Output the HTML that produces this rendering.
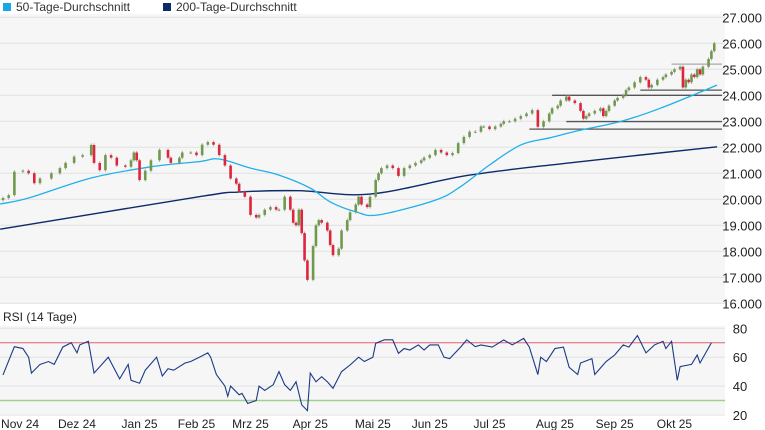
<!DOCTYPE html>
<html><head><meta charset="utf-8"><style>
body{margin:0;background:#fff;font-family:"Liberation Sans",Arial,sans-serif}
svg{display:block}
text{font-family:"Liberation Sans",Arial,sans-serif}
</style></head><body>
<svg id="c" width="765" height="430" viewBox="0 0 765 430" xmlns="http://www.w3.org/2000/svg">
<rect x="0" y="0" width="765" height="430" fill="#fff"/>
<g>
<rect x="3" y="3" width="8" height="8" fill="#1aa6e4"/>
<text x="16" y="11" font-size="12" fill="#333">50-Tage-Durchschnitt</text>
<rect x="163" y="3" width="8" height="8" fill="#0d2a6b"/>
<text x="176" y="11" font-size="12" fill="#333">200-Tage-Durchschnitt</text>
</g>
<rect x="0" y="14" width="725" height="289" fill="#f6f6f6"/>
<rect x="0" y="326" width="725" height="88" fill="#f6f6f6"/>
<text x="3" y="321" font-size="12" fill="#222">RSI (14 Tage)</text>
<g id="grid"></g><g id="levels"></g><g id="ma"></g><g id="candles"></g><g id="rsi"></g><g id="axes"></g>
</svg>
<script>
const days=[0,2,4,7,9,11,13,17,20,22,25,28,31,32,34,36,38,40,43,45,46,47,48,50,52,55,58,59,62,63,66,68,70,72,74,76,78,80,82,83,85,87,89,90,92,94,96,97,99,101,102,103,104,105,106,107,109,110,111,112,114,115,116,118,119,121,122,124,125,126,128,129,131,132,133,135,137,139,141,143,145,147,148,150,152,154,156,158,160,162,164,166,168,169,171,173,175,176,178,180,182,184,186,188,190,192,193,195,196,198,199,201,203,204,205,206,208,210,211,212,213,215,216,218,219,220,222,224,226,227,228,230,232,233,235,236,238,239,240,241,242,243,244,245,246,248,249,250];
const closes=[20050,20160,21060,21100,21000,20620,20800,21000,21200,21400,21640,21700,22090,21400,21120,21700,21600,21300,21250,21500,21800,21500,20740,21100,21500,21900,21600,21400,21600,21800,21800,21700,22100,22200,22100,21700,21300,20800,20600,20300,20100,19400,19300,19400,19600,19700,19600,19600,20100,19600,19100,19000,19600,18700,17650,16900,18200,19000,19200,19100,18800,18240,17850,18100,18800,19200,19500,19800,20100,19800,19700,20100,20740,21000,21200,21300,21200,20900,21200,21300,21400,21500,21600,21700,21900,21800,21700,21780,22160,22400,22600,22600,22800,22800,22700,22800,22900,23000,23000,23100,23200,23300,23430,22790,23000,23300,23500,23600,23800,23950,23800,23700,23400,23100,23200,23300,23400,23500,23200,23400,23600,23800,23900,24000,24200,24300,24500,24700,24600,24300,24400,24600,24700,24800,24900,25000,25100,24300,24600,24500,24800,24700,25000,24800,25100,25400,25700,26000];
const ma50Days=[-1,9,31,52,69,76,87,97,108,115,124,132,152,161,171,182,192,203,217,231,251];
const ma50Vals=[19820,20050,20820,21250,21450,21550,21200,20930,20430,19900,19520,19400,19970,20500,21320,22090,22360,22660,22990,23500,24390];
const ma200Days=[-1,69,83,104,129,164,199,251];
const ma200Vals=[18850,20100,20280,20330,20200,20930,21400,22020];
const levelStartDays=[235,224,193,198,185];
const levelVals=[25200,24200,24000,22990,22700];
const rsiDays=[0,4,7,9,10,13,16,18,21,24,26,27,30,32,37,41,44,45,48,50,54,56,58,60,64,66,69,72,73,75,78,79,80,83,84,86,89,90,92,95,97,99,101,103,105,107,108,110,112,114,116,119,122,125,127,130,131,134,137,139,141,143,146,148,150,153,155,157,161,163,166,168,172,176,179,183,185,188,189,191,194,197,199,202,203,207,208,212,215,218,220,223,226,229,232,233,235,237,238,242,244,245,249];
const rsiVals=[47.7,67.3,66,60,49,55,57,55,67,70,63,68.5,71,49,60,45,55,44,42,51,60,47,52,51,56,57,60,63,60,48,40,33,40,34,35,28,30,40,37,41,50,41,37,43,27,23,49,43,46.5,43,38.5,50,54.6,60,57,60,69.6,72,72,62.7,66,65,68.5,65,68.5,68.5,60,59,67.3,72,67.3,68.5,67,72,68.5,73,67,48,60,57,66,67,53,48,56,59,48,57,61.5,68.5,67,75,63,68.5,71,66,71,44,53.5,55,61.5,56,70];
const priceTicks=[16000,17000,18000,19000,20000,21000,22000,23000,24000,25000,26000,27000];
const rsiTicks=[20,40,60,80];
const monthLabels=["Nov 24","Dez 24","Jan 25","Feb 25","Mrz 25","Apr 25","Mai 25","Jun 25","Jul 25","Aug 25","Sep 25","Okt 25"];
const monthDays=[6,26,48,68,87,108,130,150,171,194,215,236];

const NS="http://www.w3.org/2000/svg";
const X=d=>3+d*2.845;
const Y=v=>199.3-(v-20000)*0.026;
const RY=v=>328.3+(80-v)*(86.7/60);
function mk(tag,attrs,parent){const e=document.createElementNS(NS,tag);for(const k in attrs)e.setAttribute(k,attrs[k]);document.getElementById(parent).appendChild(e);return e;}
function fmt(v){return String(v).replace(/(\d)(?=(\d{3})+$)/,'$1.');}
// grid
priceTicks.forEach(t=>{
 const l=mk('line',{x1:0,x2:725,y1:Y(t),y2:Y(t),stroke:'#e1e1e1','stroke-width':1},'grid');
 
 
 const tx=mk('text',{x:762,y:Y(t)+5,'font-size':13,fill:'#222','text-anchor':'end'},'axes');
 tx.textContent=fmt(t);
 
 
});
rsiTicks.forEach(t=>{
 const l=mk('line',{x1:0,x2:725,y1:RY(t),y2:RY(t),stroke:'#e1e1e1','stroke-width':1},'grid');
 
 
 const tx=mk('text',{x:740,y:RY(t)+5,'font-size':13,fill:'#222','text-anchor':'middle'},'axes');
 tx.textContent=t;
 
 
});
const r70=mk('line',{x1:0,x2:725,y1:RY(70),y2:RY(70),stroke:'#e06070','stroke-width':1},'grid');


const r30=mk('line',{x1:0,x2:725,y1:RY(30),y2:RY(30),stroke:'#9fd08f','stroke-width':1.5},'grid');


monthLabels.forEach((m,i)=>{
 const tx=mk('text',{x:X(monthDays[i]),y:428,'font-size':12,fill:'#222','text-anchor':'middle'},'axes');
 tx.textContent=m;
 
 
});
// levels
levelVals.forEach((v,i)=>{
 const l=mk('line',{x1:X(levelStartDays[i]),x2:722,y1:Y(v),y2:Y(v),stroke:i==0?'#aaa':'#555','stroke-width':1.3},'levels');
 
 
});
// MAs
function smoothPath(ds,vs,fy){let p='';const pts=ds.map((d,i)=>[X(d),fy(vs[i])]);
 pts.forEach((pt,i)=>{if(i==0){p+='M'+pt[0]+','+pt[1];return;}const a=pts[i-1],b=pt,pa=pts[i-2]||a,nb=pts[i+1]||b;
 const c1=[a[0]+(b[0]-pa[0])/6,a[1]+(b[1]-pa[1])/6],c2=[b[0]-(nb[0]-a[0])/6,b[1]-(nb[1]-a[1])/6];
 p+=` C${c1[0]},${c1[1]} ${c2[0]},${c2[1]} ${b[0]},${b[1]}`;});return p;}
const m200=mk('path',{d:smoothPath(ma200Days,ma200Vals,Y),fill:'none',stroke:'#0d2a6b','stroke-width':1.4},'ma');


const m50=mk('path',{d:smoothPath(ma50Days,ma50Vals,Y),fill:'none',stroke:'#1fb0ea','stroke-width':1.3},'ma');


// candles
closes.forEach((c,i)=>{
 const o=i?closes[i-1]:c-80;const up=c>=o;
 const hi=Math.max(o,c)+60,lo=Math.min(o,c)-60;const x=X(days[i]);
 const w=mk('line',{x1:x,x2:x,y1:Y(hi),y2:Y(lo),stroke:'#999','stroke-width':0.8},'candles');
 
 
 const top=Y(Math.max(o,c)),h=Math.max(1,Math.abs(Y(o)-Y(c)));
 const r=mk('rect',{x:x-1.3,y:top,width:2.6,height:h,fill:up?'#6f9a4c':'#e0243c'},'candles');
 
 
});
// RSI
const rp=mk('polyline',{points:rsiDays.map((d,i)=>X(d)+','+RY(rsiVals[i])).join(' '),fill:'none',stroke:'#1b3a85','stroke-width':1.1},'rsi');


</script>
</body></html>
